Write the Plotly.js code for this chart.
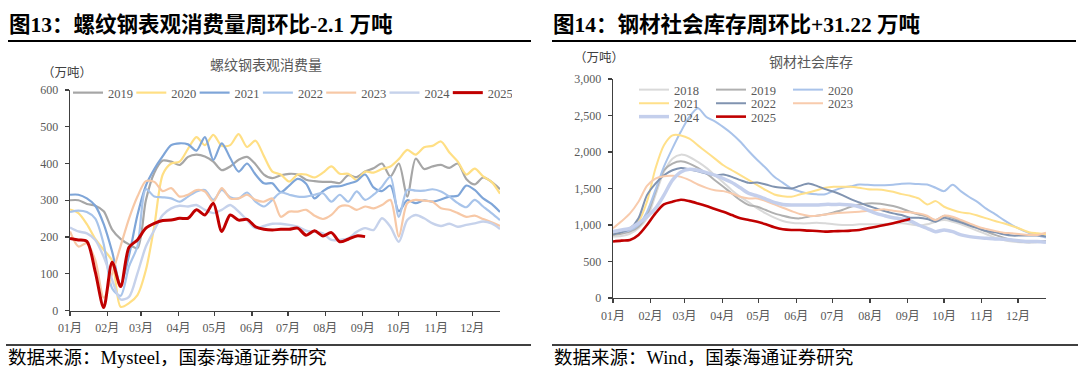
<!DOCTYPE html>
<html><head><meta charset="utf-8">
<script src="https://cdn.plot.ly/plotly-3.0.1.min.js"></script>
<style>html,body{margin:0;padding:0;background:#fff;}#chart{width:1080px;height:373px;}</style>
</head><body><div id="chart"></div>
<script>
const monthLabels = ['01月','02月','03月','04月','05月','06月','07月','08月','09月','10月','11月','12月'];
const monthStartDays = [0,31,59,90,120,151,181,212,243,273,304,334];

// Rebar apparent consumption (万吨), weekly
const rebar2019 = [300,300,290,285,270,220,195,180,170,300,375,408,405,396,418,424,419,405,382,392,410,418,398,370,360,368,372,370,356,352,350,350,347,368,363,378,387,400,365,400,310,413,385,392,396,388,400,358,343,362,350,330];
const rebar2020 = [275,265,235,195,165,135,10,20,42,110,230,370,400,405,440,472,450,478,448,450,480,445,462,420,378,370,351,370,370,362,375,392,372,372,355,378,375,385,392,412,437,424,444,448,460,430,405,370,386,365,350,318];
const rebar2021 = [315,315,305,285,235,160,70,150,260,340,385,420,450,455,452,435,472,410,455,415,378,400,370,346,346,322,340,358,345,305,325,337,338,345,352,370,335,325,340,270,300,292,300,296,302,310,312,340,328,305,290,268];
const rebar2022 = [268,272,268,250,180,60,40,120,175,330,310,308,305,296,310,324,328,301,328,308,305,321,296,283,301,321,315,310,310,315,319,296,315,296,324,301,315,337,364,255,328,326,326,330,324,310,292,281,301,283,265,246];
const rebar2023 = [215,174,183,137,35,100,175,250,310,352,350,325,333,310,315,328,324,296,333,305,305,315,301,296,305,255,269,269,274,258,249,260,283,285,274,283,278,287,301,201,292,301,299,296,278,274,265,255,258,249,240,230];
const rebar2024 = [226,215,210,192,146,83,30,37,101,174,219,260,278,285,283,287,274,265,274,287,269,246,224,230,236,236,233,228,217,214,210,192,192,196,214,224,219,251,228,187,246,260,251,237,230,236,228,233,237,242,237,222];
const rebar2025 = [196,192,188,105,8,131,65,172,192,224,237,245,246,251,251,274,260,292,215,260,246,248,228,221,219,221,221,224,205,217,203,212,187,194,203,201];

// Steel social inventory (万吨), weekly
const stock2018 = [841,850,880,955,1091,1409,1727,1909,1964,1932,1864,1782,1682,1582,1477,1386,1309,1227,1159,1100,1055,1032,1023,1023,1032,1023,1009,1000,1000,1009,1009,1009,1014,1023,1023,1009,991,1009,1045,1068,1045,1009,964,918,873,827,795,773,764,759,764,773];
const stock2019 = [864,880,909,977,1136,1455,1750,1841,1873,1841,1782,1705,1614,1523,1432,1341,1273,1250,1205,1159,1127,1100,1091,1114,1127,1145,1173,1205,1250,1282,1295,1295,1282,1259,1227,1182,1145,1114,1068,1127,1100,1055,1000,955,909,864,827,795,773,764,773,782];
const stock2020 = [880,900,930,1000,1180,1480,1800,2050,2280,2480,2600,2480,2420,2340,2250,2140,2010,1890,1780,1660,1580,1500,1460,1432,1420,1420,1470,1509,1530,1554,1550,1545,1545,1550,1565,1568,1560,1555,1510,1464,1550,1460,1380,1310,1220,1150,1070,1000,940,890,860,827];
const stock2021 = [870,900,960,1045,1318,1773,2091,2227,2227,2182,2091,2000,1909,1818,1750,1682,1614,1545,1477,1418,1395,1386,1418,1445,1477,1509,1523,1523,1523,1509,1491,1486,1477,1455,1423,1400,1364,1282,1327,1250,1205,1173,1159,1127,1091,1055,1023,986,945,900,886,873];
const stock2022 = [870,900,950,1091,1409,1568,1682,1750,1782,1764,1736,1705,1682,1691,1659,1614,1577,1582,1555,1523,1509,1500,1536,1568,1536,1491,1455,1409,1355,1309,1264,1227,1191,1159,1136,1100,1100,1082,1045,1100,1068,1032,991,955,918,900,873,855,855,855,855,841];
const stock2023 = [955,1050,1159,1318,1536,1636,1668,1673,1659,1614,1555,1509,1477,1464,1432,1386,1364,1364,1327,1282,1236,1191,1150,1127,1127,1145,1159,1168,1173,1182,1195,1205,1214,1195,1182,1173,1159,1127,1068,1127,1114,1068,1023,977,945,918,895,886,873,864,864,895];
const stock2024 = [909,932,955,1023,1114,1227,1409,1614,1727,1764,1750,1718,1682,1636,1582,1509,1432,1400,1355,1309,1282,1273,1273,1273,1273,1282,1282,1282,1273,1250,1205,1159,1127,1100,1082,1055,1000,955,909,932,909,864,841,827,818,809,805,795,782,773,773,764];
const stock2025 = [773,786,795,864,1000,1159,1282,1318,1345,1327,1295,1259,1218,1182,1136,1091,1068,1045,1009,968,941,932,932,923,918,909,914,918,923,932,955,977,1000,1023,1055,1082];

const F_SERIF = 'Liberation Serif, "Noto Sans CJK SC", serif';
const TICK_GRAY = '#595959';
const weekIdx = n => Array.from({length:n}, (_, i) => i);
const tickVals = monthStartDays.map(d => d / 7);

function tr(y, name, color, width, xa, ya, legend) {
  return {x: weekIdx(y.length), y: y, name: name, type: 'scatter', mode: 'lines',
    line: {color: color, width: width, shape: 'spline', smoothing: 0.8},
    xaxis: xa, yaxis: ya, legend: legend, hoverinfo: 'skip'};
}

const data = [
  tr(rebar2019,'2019','#a6a6a6',2.2,'x','y','legend'),
  tr(rebar2020,'2020','#ffdf84',2.2,'x','y','legend'),
  tr(rebar2021,'2021','#7ea5d8',2.2,'x','y','legend'),
  tr(rebar2022,'2022','#a8c4ea',2.2,'x','y','legend'),
  tr(rebar2023,'2023','#f7c8a6',2.2,'x','y','legend'),
  tr(rebar2024,'2024','#c6d2eb',2.4,'x','y','legend'),
  tr(rebar2025,'2025','#c00000',3,'x','y','legend'),

  tr(stock2018,'2018','#d9d9d9',2,'x2','y2','legend2'),
  tr(stock2019,'2019','#b0b0b0',2,'x2','y2','legend2'),
  tr(stock2020,'2020','#a9c3ea',2,'x2','y2','legend2'),
  tr(stock2021,'2021','#ffe08a',2,'x2','y2','legend3'),
  tr(stock2022,'2022','#8093b0',2,'x2','y2','legend3'),
  tr(stock2023,'2023','#f8cbad',2,'x2','y2','legend3'),
  tr(stock2024,'2024','#c4cfec',3.5,'x2','y2','legend4'),
  tr(stock2025,'2025','#c00000',2.6,'x2','y2','legend4'),
];

const axisBase = {
  showgrid: false, zeroline: false, showline: true, linecolor: '#404040', linewidth: 1.3,
  ticks: 'outside', ticklen: 4, tickcolor: '#404040', tickwidth: 1.3,
  tickfont: {family: F_SERIF, size: 12, color: TICK_GRAY}, fixedrange: true
};
const xAxisBase = Object.assign({}, axisBase, {
  range: [0, 51], tickmode: 'array', tickvals: tickVals, ticktext: monthLabels, ticklabelstandoff: 2
});

function legendCfg(x, y, ew) {
  return {orientation: 'h', x: x, xanchor: 'left', y: y, yanchor: 'middle',
    entrywidth: ew, entrywidthmode: 'pixels', itemwidth: 30, tracegroupgap: 0,
    font: {family: F_SERIF, size: 12.5, color: TICK_GRAY}, bgcolor: 'rgba(0,0,0,0)', borderwidth: 0};
}

const H = 373, W = 1080;
const px = v => v / W, py = v => 1 - v / H;

const layout = {
  width: W, height: H, margin: {l: 0, r: 0, t: 0, b: 0},
  paper_bgcolor: '#ffffff', plot_bgcolor: '#ffffff', showlegend: true,
  xaxis: Object.assign({}, xAxisBase, {domain: [px(70), px(500)], anchor: 'y'}),
  yaxis: Object.assign({}, axisBase, {domain: [py(310.5), py(90)], range: [0, 600], dtick: 100, anchor: 'x', ticklabelstandoff: 4}),
  xaxis2: Object.assign({}, xAxisBase, {domain: [px(613), px(1046)], anchor: 'y2'}),
  yaxis2: Object.assign({}, axisBase, {domain: [py(298), py(79)], range: [0, 3000], dtick: 500, tickformat: ',', anchor: 'x2', ticklabelstandoff: 4}),
  legend: legendCfg(px(68), py(93), 18.3),
  legend2: legendCfg(px(634), py(90), 32),
  legend3: legendCfg(px(634), py(103.5), 32),
  legend4: legendCfg(px(634), py(117), 32),
  annotations: [
    {text: '<b>图13：螺纹钢表观消费量周环比-2.1 万吨</b>', x: px(7), y: py(25), xref: 'paper', yref: 'paper', xanchor: 'left', yanchor: 'middle', showarrow: false, font: {family: F_SERIF, size: 21.5, color: '#000'}},
    {text: '<b>图14：钢材社会库存周环比+31.22 万吨</b>', x: px(551), y: py(25), xref: 'paper', yref: 'paper', xanchor: 'left', yanchor: 'middle', showarrow: false, font: {family: F_SERIF, size: 21.5, color: '#000'}},
    {text: '螺纹钢表观消费量', x: px(266), y: py(65), xref: 'paper', yref: 'paper', xanchor: 'center', yanchor: 'middle', showarrow: false, font: {family: F_SERIF, size: 14, color: TICK_GRAY}},
    {text: '钢材社会库存', x: px(811), y: py(62), xref: 'paper', yref: 'paper', xanchor: 'center', yanchor: 'middle', showarrow: false, font: {family: F_SERIF, size: 14, color: TICK_GRAY}},
    {text: '（万吨）', x: px(40), y: py(73), xref: 'paper', yref: 'paper', xanchor: 'left', yanchor: 'middle', showarrow: false, font: {family: F_SERIF, size: 12.5, color: '#404040'}},
    {text: '（万吨）', x: px(572), y: py(58), xref: 'paper', yref: 'paper', xanchor: 'left', yanchor: 'middle', showarrow: false, font: {family: F_SERIF, size: 12.5, color: '#404040'}},
    {text: '数据来源：Mysteel，国泰海通证券研究', x: px(6), y: py(358), xref: 'paper', yref: 'paper', xanchor: 'left', yanchor: 'middle', showarrow: false, font: {family: F_SERIF, size: 18.5, color: '#000'}},
    {text: '数据来源：Wind，国泰海通证券研究', x: px(552), y: py(358), xref: 'paper', yref: 'paper', xanchor: 'left', yanchor: 'middle', showarrow: false, font: {family: F_SERIF, size: 18.5, color: '#000'}}
  ],
  shapes: [
    {type: 'line', xref: 'paper', yref: 'paper', x0: px(8), x1: px(531), y0: py(41), y1: py(41), line: {color: '#000', width: 2}},
    {type: 'line', xref: 'paper', yref: 'paper', x0: px(552), x1: px(1076), y0: py(41), y1: py(41), line: {color: '#000', width: 2}},
    {type: 'line', xref: 'paper', yref: 'paper', x0: px(6), x1: px(531), y0: py(345), y1: py(345), line: {color: '#000', width: 1.5}},
    {type: 'line', xref: 'paper', yref: 'paper', x0: px(552), x1: px(1078), y0: py(345), y1: py(345), line: {color: '#000', width: 1.5}}
  ]
};

Plotly.newPlot('chart', data, layout, {staticPlot: true, displayModeBar: false});
</script>
</body></html>
